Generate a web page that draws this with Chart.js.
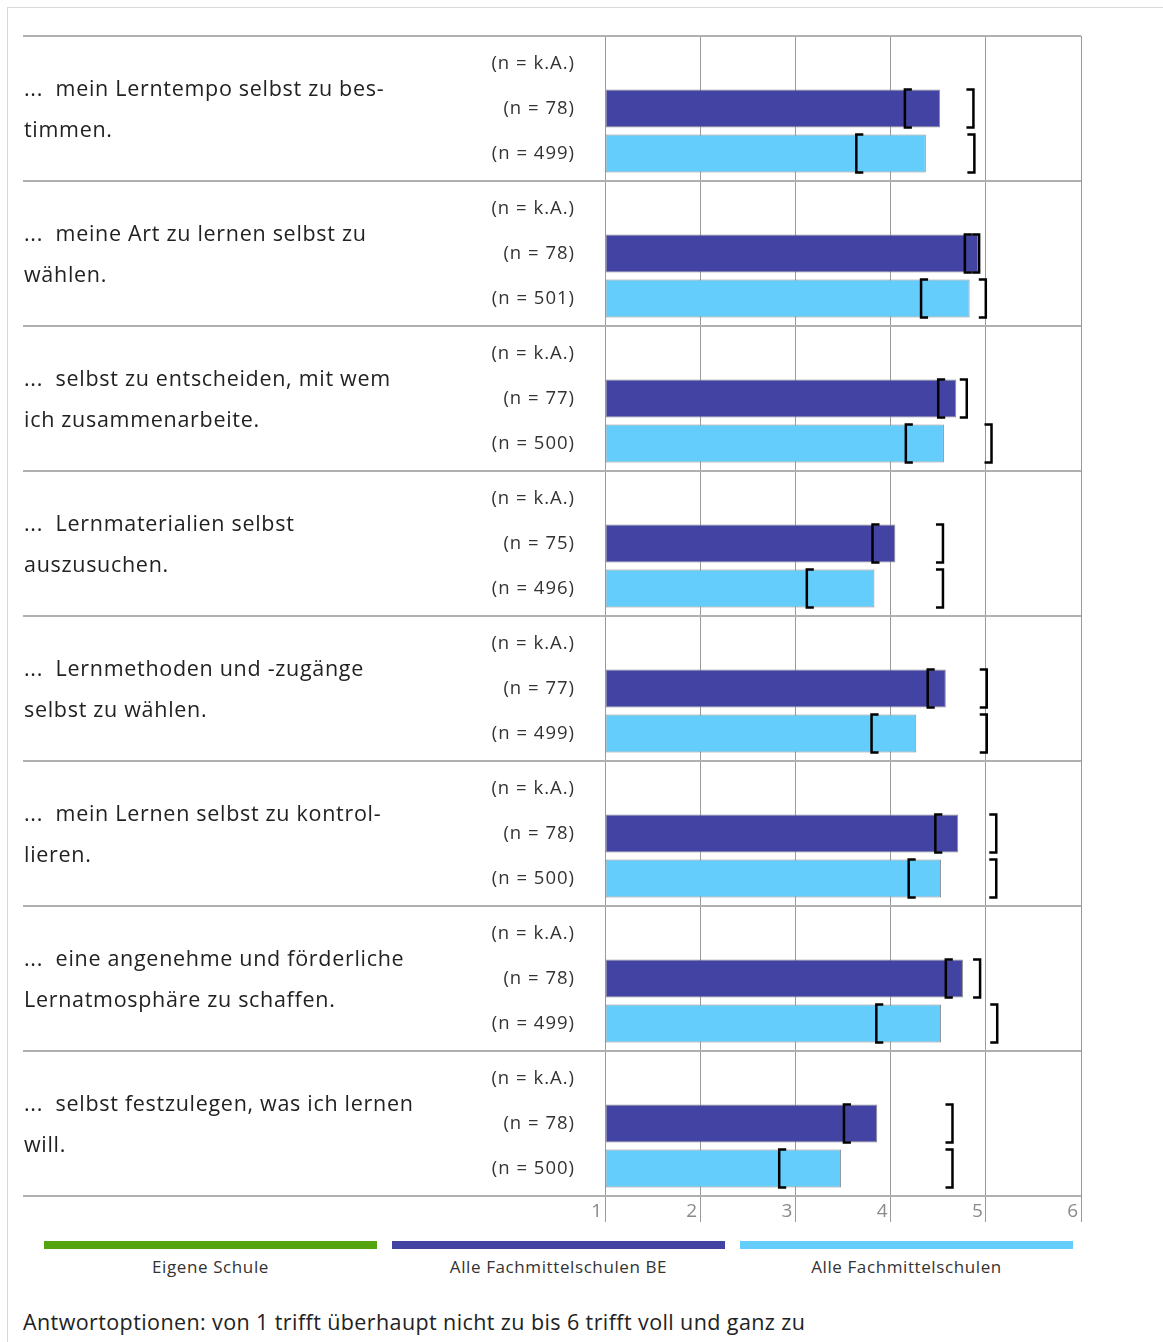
<!DOCTYPE html>
<html lang="de">
<head>
<meta charset="utf-8">
<title>Selbstbestimmtes Lernen</title>
<script src="https://cdn.jsdelivr.net/npm/chart.js@4.4.1/dist/chart.umd.min.js"></script>
<style>
  html, body { margin: 0; padding: 0; background: #fff; overflow: hidden; }
  body { width: 1163px; height: 1342px; position: relative; font-family: "Open Sans", Roboto, sans-serif; color: #222; }
  .frame { position: absolute; left: 7px; top: 7px; right: 0; bottom: 0; border-top: 1px solid #d9d9d9; border-left: 1px solid #d9d9d9; }
  .chart-box { position: absolute; left: 0; top: 0; width: 1163px; height: 1230px; }
  .legend { position: absolute; left: 0; top: 1241px; width: 1163px; height: 50px; }
  .legend-item { position: absolute; top: 0; width: 333px; text-align: center; font-size: 17px; letter-spacing: 0.6px; color: #333; }
  .legend-item .swatch { height: 8px; margin-bottom: 6px; }
  .note { position: absolute; left: 23px; top: 1307px; font-size: 21.5px; letter-spacing: 0.4px; color: #222; white-space: nowrap; }
</style>
</head>
<body>
<div class="frame"></div>
<div class="chart-box"><canvas id="lernChart"></canvas></div>
<div class="legend" id="legend"></div>
<div class="note">Antwortoptionen: von 1 trifft überhaupt nicht zu bis 6 trifft voll und ganz zu</div>

<script>
// ── DATA ──
const QUESTIONS = [
  ['...  mein Lerntempo selbst zu bes-', 'timmen.'],
  ['...  meine Art zu lernen selbst zu', 'wählen.'],
  ['...  selbst zu entscheiden, mit wem', 'ich zusammenarbeite.'],
  ['...  Lernmaterialien selbst', 'auszusuchen.'],
  ['...  Lernmethoden und -zugänge', 'selbst zu wählen.'],
  ['...  mein Lernen selbst zu kontrol-', 'lieren.'],
  ['...  eine angenehme und förderliche', 'Lernatmosphäre zu schaffen.'],
  ['...  selbst festzulegen, was ich lernen', 'will.']
];

const SERIES = ['Eigene Schule', 'Alle Fachmittelschulen BE', 'Alle Fachmittelschulen'];

// Eigene Schule: keine Angaben
const ownMean = [null, null, null, null, null, null, null, null];
const ownN    = ['k.A.', 'k.A.', 'k.A.', 'k.A.', 'k.A.', 'k.A.', 'k.A.', 'k.A.'];

const beMean = [4.52, 4.92, 4.69, 4.05, 4.58, 4.71, 4.76, 3.86];
const beLow  = [4.15, 4.78, 4.50, 3.81, 4.39, 4.47, 4.58, 3.51];
const beHigh = [4.87, 4.93, 4.80, 4.55, 5.01, 5.11, 4.94, 4.65];
const beN    = [78, 78, 77, 75, 77, 78, 78, 78];

const allMean = [4.37, 4.83, 4.56, 3.83, 4.27, 4.53, 4.53, 3.48];
const allLow  = [3.64, 4.32, 4.16, 3.12, 3.80, 4.19, 3.85, 2.83];
const allHigh = [4.88, 5.00, 5.06, 4.55, 5.01, 5.11, 5.12, 4.65];
const allN    = [499, 501, 500, 496, 499, 500, 499, 500];

const X_TICKS = [1, 2, 3, 4, 5, 6];

const COLORS = ['#55a30f', '#4343a3', '#64cdfc'];
const FONT = '"Open Sans", Roboto, sans-serif';

const RANGES = [null, { low: beLow, high: beHigh }, { low: allLow, high: allHigh }];
const N_LABELS = [ownN, beN, allN];

// ── PLUGIN: question text, n labels, separators, brackets, x labels ──
const decorPlugin = {
  id: 'decor',
  beforeDatasetsDraw(chart) {
    const { ctx, chartArea, scales } = chart;
    const y = scales.y;
    ctx.save();
    // group separators
    ctx.strokeStyle = '#b0b0b0';
    ctx.lineWidth = 2;
    for (let i = 0; i <= QUESTIONS.length; i++) {
      const yy = i === 0 ? chartArea.top : (i === QUESTIONS.length ? chartArea.bottom :
        (y.getPixelForValue(i - 1) + y.getPixelForValue(i)) / 2);
      ctx.beginPath();
      ctx.moveTo(23, Math.round(yy));
      ctx.lineTo(chartArea.right, Math.round(yy));
      ctx.stroke();
    }
    ctx.restore();
  },
  afterDatasetsDraw(chart) {
    const { ctx, scales, chartArea } = chart;
    const x = scales.x;
    const y = scales.y;
    ctx.save();

    // question text
    ctx.fillStyle = '#222';
    ctx.font = '21.5px ' + FONT;
    ctx.letterSpacing = '0.7px';
    ctx.textAlign = 'left';
    ctx.textBaseline = 'middle';
    chart.data.labels.forEach((lines, i) => {
      const cy = y.getPixelForValue(i);
      lines.forEach((t, k) => ctx.fillText(t, 24, cy - 19 + k * 41));
    });

    // n labels at the row of each series
    ctx.fillStyle = '#333';
    ctx.font = '18.5px ' + FONT;
    ctx.letterSpacing = '1px';
    ctx.textAlign = 'right';
    chart.data.datasets.forEach((ds, d) => {
      const meta = chart.getDatasetMeta(d);
      meta.data.forEach((bar, i) => {
        const mid = y.getPixelForValue(i) + (d - 1) * 45;
        ctx.fillText('(n = ' + N_LABELS[d][i] + ')', 575, mid);
      });
    });

    // x tick labels, next to the tick lines
    ctx.fillStyle = '#8a8a8a';
    ctx.font = '19px ' + FONT;
    ctx.letterSpacing = '0px';
    ctx.textAlign = 'right';
    X_TICKS.forEach(v => ctx.fillText(String(v), x.getPixelForValue(v) - 3, chartArea.bottom + 16));

    // range brackets
    ctx.strokeStyle = '#000';
    ctx.lineWidth = 2.5;
    ctx.lineJoin = 'miter';
    RANGES.forEach((r, d) => {
      if (!r) return;
      const meta = chart.getDatasetMeta(d);
      meta.data.forEach((bar, i) => {
        const top = bar.y - bar.height / 2;
        const bot = bar.y + bar.height / 2;
        const xl = x.getPixelForValue(r.low[i]);
        const xh = x.getPixelForValue(r.high[i]);
        ctx.beginPath();
        ctx.moveTo(xl + 7, top); ctx.lineTo(xl, top); ctx.lineTo(xl, bot); ctx.lineTo(xl + 7, bot);
        ctx.stroke();
        ctx.beginPath();
        ctx.moveTo(xh - 7, top); ctx.lineTo(xh, top); ctx.lineTo(xh, bot); ctx.lineTo(xh - 7, bot);
        ctx.stroke();
      });
    });
    ctx.restore();
  }
};

const chart = new Chart(document.getElementById('lernChart'), {
  type: 'bar',
  data: {
    labels: QUESTIONS,
    datasets: [ownMean, beMean, allMean].map((vals, d) => ({
      label: SERIES[d],
      data: vals,
      base: 1,
      backgroundColor: COLORS[d],
      borderColor: '#8c8c8c',
      borderWidth: 1,
      borderSkipped: false,
      categoryPercentage: 135 / 145,
      barPercentage: 38 / 45
    }))
  },
  options: {
    indexAxis: 'y',
    responsive: true,
    maintainAspectRatio: false,
    animation: false,
    layout: { padding: { left: 605, right: 82, top: 36, bottom: 8 } },
    plugins: {
      legend: { display: false },
      tooltip: { enabled: false }
    },
    scales: {
      x: {
        type: 'linear',
        min: X_TICKS[0],
        max: X_TICKS[X_TICKS.length - 1],
        afterBuildTicks: s => { s.ticks = X_TICKS.map(v => ({ value: v })); },
        grid: { color: '#9a9a9a', lineWidth: 1, tickLength: 26, drawTicks: true },
        border: { display: false },
        ticks: { display: false }
      },
      y: {
        display: false,
        offset: true
      }
    }
  },
  plugins: [decorPlugin]
});

// HTML legend built from datasets
const legendEl = document.getElementById('legend');
const LEGEND_X = [44, 392, 740];
chart.data.datasets.forEach((ds, d) => {
  const item = document.createElement('div');
  item.className = 'legend-item';
  item.style.left = LEGEND_X[d] + 'px';
  item.innerHTML = '<div class="swatch" style="background:' + ds.backgroundColor + '"></div>' + ds.label;
  legendEl.appendChild(item);
});
</script>
</body>
</html>
